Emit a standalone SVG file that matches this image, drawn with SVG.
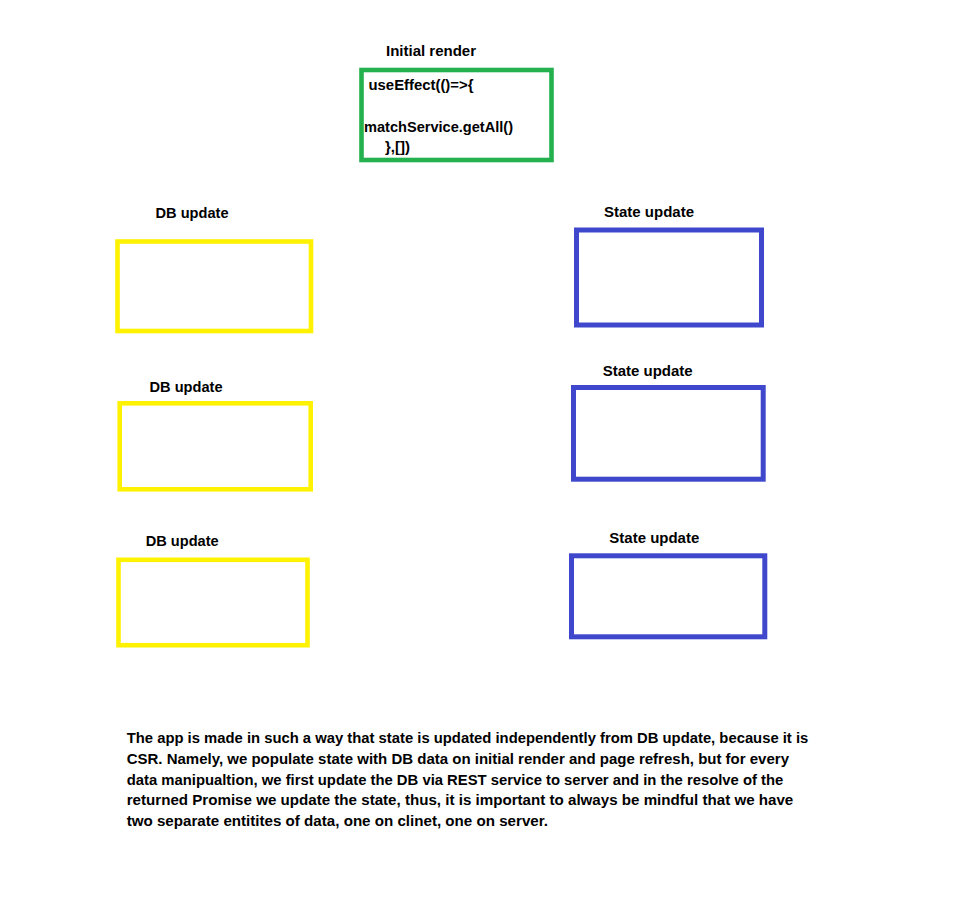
<svg xmlns="http://www.w3.org/2000/svg" width="965" height="904" viewBox="0 0 965 904">
<style>
  text { font-family: "Liberation Sans", Arial, sans-serif; font-weight: bold; font-size: 15px; fill: #000; }
  .g { fill: none; stroke: #22b14c; stroke-width: 4.6; }
  .y { fill: none; stroke: #fff200; stroke-width: 4.6; }
  .b { fill: none; stroke: #3f48cc; stroke-width: 5; }
</style>
<rect width="965" height="904" fill="#fff"/>
<g id="initial-render">
  <text x="386" y="56" textLength="90" lengthAdjust="spacingAndGlyphs">Initial render</text>
  <rect class="g" x="361.5" y="70" width="190" height="90"/>
  <text x="368.5" y="90" textLength="105" lengthAdjust="spacingAndGlyphs">useEffect(()=&gt;{</text>
  <text x="364" y="131.5" textLength="149" lengthAdjust="spacingAndGlyphs">matchService.getAll()</text>
  <text x="385" y="152" textLength="25" lengthAdjust="spacingAndGlyphs">},[])</text>
</g>
<g id="db-update-1">
  <text x="155.5" y="217.5" textLength="73" lengthAdjust="spacingAndGlyphs">DB update</text>
  <rect class="y" x="117.5" y="241.5" width="193.5" height="89.5"/>
</g>
<g id="state-update-1">
  <text x="604" y="217" textLength="90" lengthAdjust="spacingAndGlyphs">State update</text>
  <rect class="b" x="576.5" y="230" width="185" height="95"/>
</g>
<g id="db-update-2">
  <text x="149.5" y="391.5" textLength="73" lengthAdjust="spacingAndGlyphs">DB update</text>
  <rect class="y" x="119.7" y="403.3" width="191" height="86"/>
</g>
<g id="state-update-2">
  <text x="602.7" y="375.7" textLength="90" lengthAdjust="spacingAndGlyphs">State update</text>
  <rect class="b" x="573.5" y="387.5" width="189.7" height="91.7"/>
</g>
<g id="db-update-3">
  <text x="145.7" y="545.7" textLength="73" lengthAdjust="spacingAndGlyphs">DB update</text>
  <rect class="y" x="118.5" y="559.8" width="189" height="85.4"/>
</g>
<g id="state-update-3">
  <text x="609.3" y="543.3" textLength="90" lengthAdjust="spacingAndGlyphs">State update</text>
  <rect class="b" x="571.5" y="555.8" width="193.3" height="81"/>
</g>
<g id="connectors"></g>
<g id="note">
  <text x="126.7" y="743.3" textLength="681.6" lengthAdjust="spacingAndGlyphs">The app is made in such a way that state is updated independently from DB update, because it is</text>
  <text x="126.7" y="764" textLength="662.3" lengthAdjust="spacingAndGlyphs">CSR. Namely, we populate state with DB data on initial render and page refresh, but for every</text>
  <text x="126.7" y="784.5" textLength="656.6" lengthAdjust="spacingAndGlyphs">data manipualtion, we first update the DB via REST service to server and in the resolve of the</text>
  <text x="126.7" y="805" textLength="666.6" lengthAdjust="spacingAndGlyphs">returned Promise we update the state, thus, it is important to always be mindful that we have</text>
  <text x="126.7" y="825.5" textLength="421.3" lengthAdjust="spacingAndGlyphs">two separate entitites of data, one on clinet, one on server.</text>
</g>
</svg>
